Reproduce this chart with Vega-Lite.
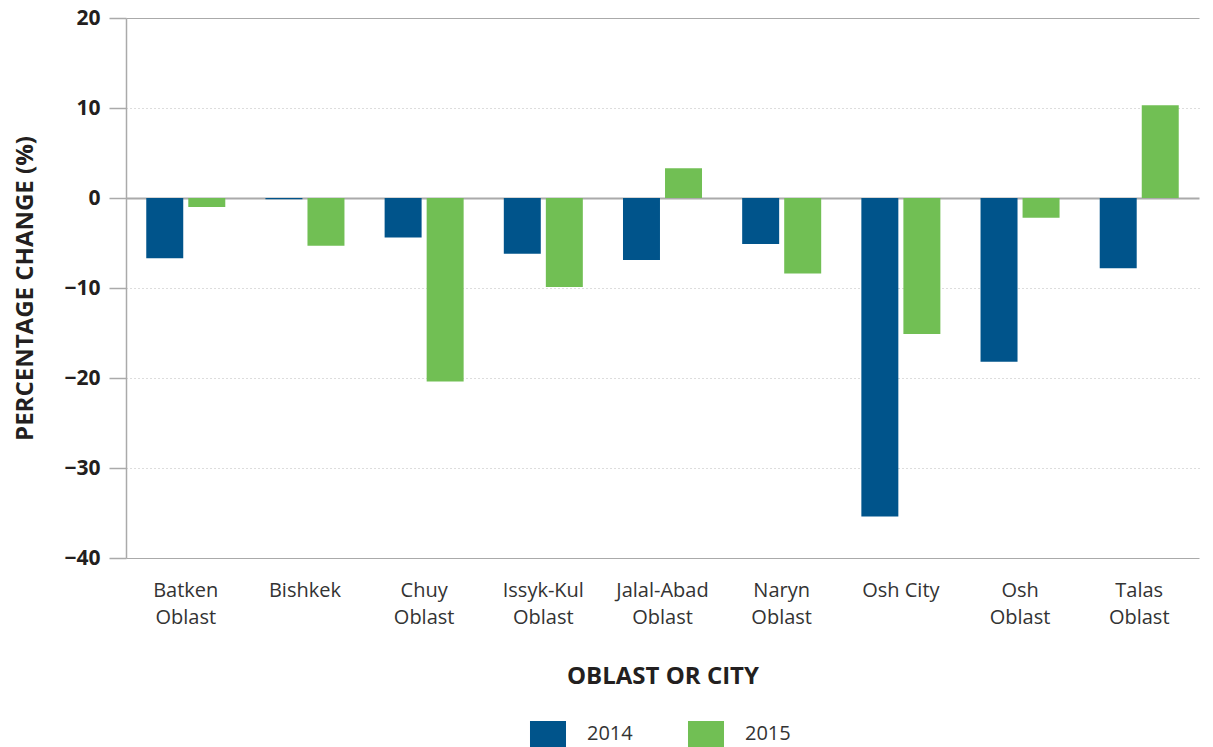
{
  "$schema": "https://vega.github.io/schema/vega-lite/v6.json",
  "width": 1073,
  "height": 540,
  "padding": {"left": 13, "top": 7, "right": 13, "bottom": 0},
  "background": "white",
  "data": {
    "values": [
      {"region": "Batken Oblast", "year": "2014", "change": -6.7},
      {"region": "Batken Oblast", "year": "2015", "change": -1.0},
      {"region": "Bishkek", "year": "2014", "change": -0.15},
      {"region": "Bishkek", "year": "2015", "change": -5.3},
      {"region": "Chuy Oblast", "year": "2014", "change": -4.4},
      {"region": "Chuy Oblast", "year": "2015", "change": -20.4},
      {"region": "Issyk-Kul Oblast", "year": "2014", "change": -6.2},
      {"region": "Issyk-Kul Oblast", "year": "2015", "change": -9.9},
      {"region": "Jalal-Abad Oblast", "year": "2014", "change": -6.9},
      {"region": "Jalal-Abad Oblast", "year": "2015", "change": 3.3},
      {"region": "Naryn Oblast", "year": "2014", "change": -5.1},
      {"region": "Naryn Oblast", "year": "2015", "change": -8.4},
      {"region": "Osh City", "year": "2014", "change": -35.4},
      {"region": "Osh City", "year": "2015", "change": -15.1},
      {"region": "Osh Oblast", "year": "2014", "change": -18.2},
      {"region": "Osh Oblast", "year": "2015", "change": -2.2},
      {"region": "Talas Oblast", "year": "2014", "change": -7.8},
      {"region": "Talas Oblast", "year": "2015", "change": 10.3}
    ]
  },
  "mark": {"type": "bar"},
  "encoding": {
    "x": {
      "field": "region",
      "type": "nominal",
      "sort": null,
      "scale": {"paddingInner": 0.337, "paddingOuter": 0.17},
      "axis": {
        "title": "OBLAST OR CITY",
        "titleFont": "Open Sans",
        "titleFontSize": 24,
        "titleFontWeight": "bold",
        "titleColor": "#231f20",
        "titlePadding": 37,
        "labelFont": "Open Sans",
        "labelFontSize": 20,
        "labelColor": "#333333",
        "labelAngle": 0,
        "labelPadding": 22,
        "labelLineHeight": 27,
        "labelExpr": "datum.label == 'Osh City' ? datum.label : split(datum.label, ' ')",
        "ticks": false,
        "domain": false,
        "grid": false
      }
    },
    "xOffset": {
      "field": "year",
      "type": "nominal",
      "scale": {"paddingInner": 0.12}
    },
    "y": {
      "field": "change",
      "type": "quantitative",
      "scale": {"domain": [-40, 20], "nice": false, "zero": false},
      "axis": {
        "values": [-40, -30, -20, -10, 0, 10, 20],
        "title": "PERCENTAGE CHANGE (%)",
        "titleFont": "Open Sans",
        "titleFontSize": 24,
        "titleFontWeight": "bold",
        "titleColor": "#231f20",
        "titlePadding": 26,
        "labelFont": "Open Sans",
        "labelFontSize": 21,
        "labelFontWeight": "bold",
        "labelColor": "#231f20",
        "labelPadding": 9,
        "labelExpr": "replace(format(datum.value, 'd'), '-', '–')",
        "tickSize": 17,
        "tickColor": "#aaaaaa",
        "tickWidth": 1.5,
        "domain": true,
        "domainColor": "#aaaaaa",
        "domainWidth": 1.5,
        "grid": true,
        "gridColor": {"condition": {"test": "datum.value == 0 || datum.value == 20 || datum.value == -40", "value": "#aaaaaa"}, "value": "#bbbbbb"},
        "gridDash": {"condition": {"test": "datum.value == 0 || datum.value == 20 || datum.value == -40", "value": []}, "value": [1, 3]},
        "gridWidth": {"condition": {"test": "datum.value == 0", "value": 2}, "value": 1.2}
      }
    },
    "color": {
      "field": "year",
      "type": "nominal",
      "scale": {"domain": ["2014", "2015"], "range": ["#00548b", "#71bf54"]},
      "legend": {
        "title": null,
        "orient": "bottom",
        "direction": "horizontal",
        "symbolType": "M-1.385,-1L1.385,-1L1.385,1L-1.385,1Z",
        "symbolSize": 676,
        "symbolStrokeWidth": 0,
        "labelFont": "Open Sans",
        "labelFontSize": 20,
        "labelColor": "#333333",
        "labelOffset": 26,
        "columnPadding": 54,
        "offset": 33
      }
    }
  },
  "config": {
    "view": {"stroke": null},
    "legend": {"layout": {"bottom": {"anchor": "middle"}}}
  }
}
